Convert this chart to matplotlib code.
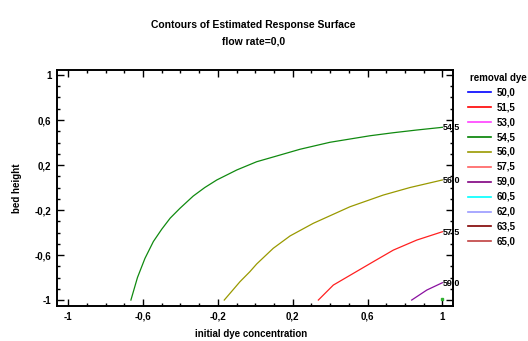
import numpy as np
import matplotlib
matplotlib.use('Agg')
import matplotlib.pyplot as plt
from matplotlib.lines import Line2D
from matplotlib.ticker import MultipleLocator, FuncFormatter

plt.rcParams['font.family'] = ['Liberation Sans Narrow', 'DejaVu Sans Condensed',
                               'Liberation Sans', 'DejaVu Sans']
plt.rcParams['font.weight'] = 'bold'

# contour lines (initial dye concentration, bed height)
x_545 = [-0.665, -0.630, -0.590, -0.545, -0.500, -0.455, -0.403, -0.332, -0.270,
         -0.206, -0.099, 0.007, 0.114, 0.239, 0.399, 0.506, 0.613, 0.738, 0.863, 1.0]
y_545 = [-1.0, -0.800, -0.630, -0.480, -0.370, -0.272, -0.185, -0.076, 0.000,
         0.067, 0.156, 0.229, 0.280, 0.340, 0.402, 0.431, 0.460, 0.487, 0.511, 0.535]
x_560 = [-0.166, -0.082, -0.029, 0.007, 0.096, 0.186, 0.310, 0.506, 0.684, 0.827, 1.0]
y_560 = [-1.0, -0.837, -0.748, -0.680, -0.540, -0.430, -0.318, -0.171, -0.067, 0.0, 0.067]
x_575 = [0.337, 0.417, 0.524, 0.631, 0.738, 0.863, 1.0]
y_575 = [-1.0, -0.867, -0.763, -0.659, -0.556, -0.467, -0.393]
x_590 = [0.836, 0.917, 1.0]
y_590 = [-1.0, -0.911, -0.846]
dot_x = [1.0]
dot_y = [-0.99]

levels = ['50,0', '51,5', '53,0', '54,5', '56,0', '57,5', '59,0', '60,5', '62,0', '63,5', '65,0']
level_colors = ['#0000ff', '#ff0000', '#ff40ff', '#008000', '#999900', '#ff6060',
                '#800080', '#00ffff', '#9999ff', '#800000', '#c04040']
line_colors = {'54,5': '#108a10', '56,0': '#999900', '57,5': '#ff2020', '59,0': '#8a10a0'}

fig = plt.figure(figsize=(5.28, 3.41), dpi=100)
ax = fig.add_axes([0.108, 0.1026, 0.750, 0.692])

curves = [(x_545, y_545, '54,5'), (x_560, y_560, '56,0'),
          (x_575, y_575, '57,5'), (x_590, y_590, '59,0')]
for xs, ys, lab in curves:
    ax.plot(xs, ys, color=line_colors[lab], linewidth=0.9)
    ax.text(xs[-1], ys[-1], lab, fontsize=6.5, ha='left', va='center',
            clip_on=False, zorder=5)
ax.plot(dot_x, dot_y, 's', color='#30b030', markersize=1.5)

ax.set_xlim(-1.060, 1.057)
ax.set_ylim(-1.053, 1.044)
ax.set_xticks([-1, -0.6, -0.2, 0.2, 0.6, 1])
ax.set_yticks([-1, -0.6, -0.2, 0.2, 0.6, 1])
ax.xaxis.set_minor_locator(MultipleLocator(0.1))
ax.yaxis.set_minor_locator(MultipleLocator(0.1))
fmt = FuncFormatter(lambda v, p: '{:g}'.format(round(v, 2)).replace('.', ','))
ax.xaxis.set_major_formatter(fmt)
ax.yaxis.set_major_formatter(fmt)
ax.tick_params(which='both', direction='in', top=True, right=True, width=1.0,
               labelsize=7, pad=4)
ax.tick_params(which='major', length=5)
ax.tick_params(which='minor', length=2.5)
for s in ax.spines.values():
    s.set_linewidth(1.4)

ax.set_xlabel('initial dye concentration', fontsize=7, fontweight='bold')
ax.set_ylabel('bed height', fontsize=7, fontweight='bold')
ax.xaxis.set_label_coords(0.49, -0.097)
ax.yaxis.set_label_coords(-0.088, 0.5)

fig.text(0.48, 0.926, 'Contours of Estimated Response Surface', ha='center',
         va='center', fontsize=7.5, fontweight='bold')
fig.text(0.48, 0.877, 'flow rate=0,0', ha='center', va='center', fontsize=7.5,
         fontweight='bold')

# legend
fig.text(0.997, 0.771, 'removal dye', fontsize=7, fontweight='bold', va='center',
         ha='right')
for i, (lab, c) in enumerate(zip(levels, level_colors)):
    yy = 1 - (92.3 + i * 14.9) / 341
    fig.add_artist(Line2D([468 / 528, 491 / 528], [yy, yy], color=c, linewidth=1.2,
                          transform=fig.transFigure))
    fig.text(497 / 528, yy, lab, fontsize=7, fontweight='bold', va='center')

fig.savefig('out.png', dpi=100)
